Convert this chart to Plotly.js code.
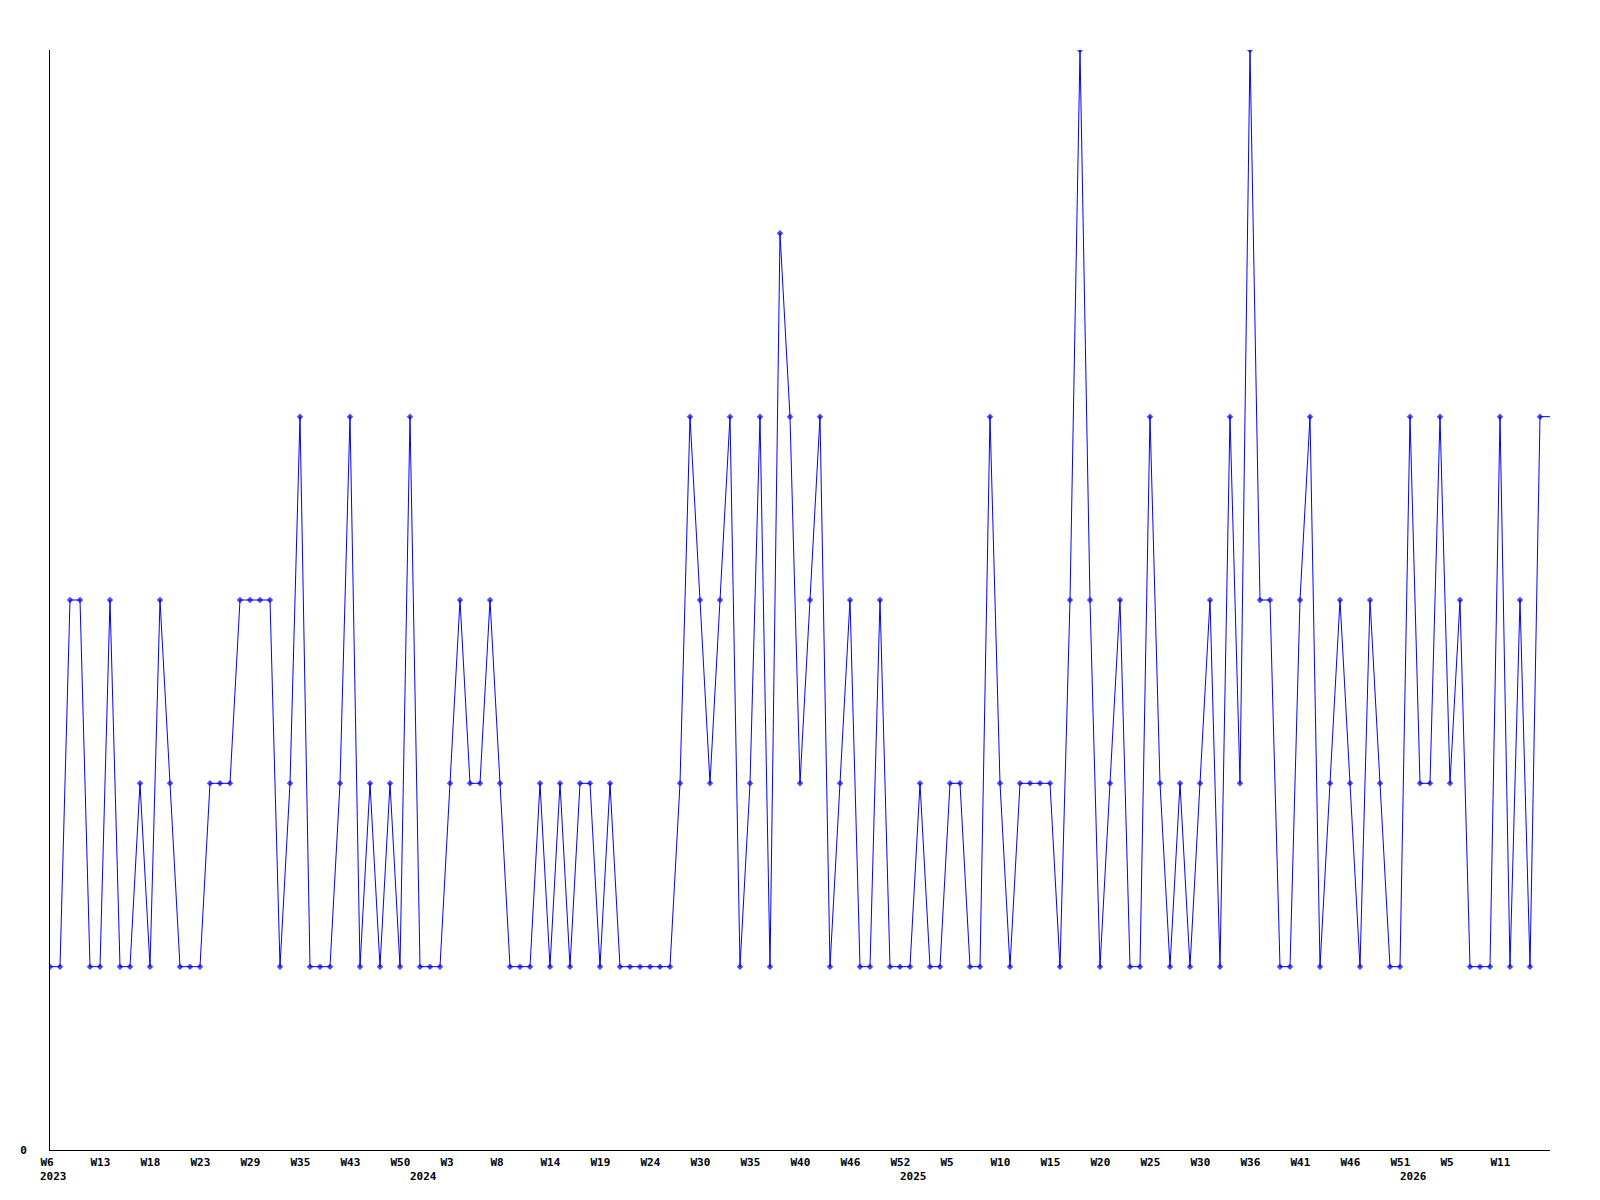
<!DOCTYPE html>
<html>
<head>
<meta charset="utf-8">
<script src="https://cdn.plot.ly/plotly-3.0.1.min.js"></script>
<style>html,body{margin:0;padding:0;background:#fff;}#chart{width:1600px;height:1200px;}</style>
</head>
<body>
<div id="chart"></div>
<script>
// Weekly values, 2023 W6 onward (one value per plotted week)
const values = [
  1,1,3,3,1,1,3,1,1,2,
  1,3,2,1,1,1,2,2,2,3,
  3,3,3,1,2,4,1,1,1,2,
  4,1,2,1,2,1,4,1,1,1,
  2,3,2,2,3,2,1,1,1,2,
  1,2,1,2,2,1,2,1,1,1,
  1,1,1,2,4,3,2,3,4,1,
  2,4,1,5,4,2,3,4,1,2,
  3,1,1,3,1,1,1,2,1,1,
  2,2,1,1,4,2,1,2,2,2,
  2,1,3,6,3,1,2,3,1,1,
  4,2,1,2,1,2,3,1,4,2,
  6,3,3,1,1,3,4,1,2,3,
  2,1,3,2,1,1,4,2,2,4,
  2,3,1,1,1,4,1,3,1,4,
  4
];

// Week tick labels (position = index in values)
const weekTickIdx  = [0,5,10,15,20,25,30,35,40,45,50,55,60,65,70,75,80,85,90,95,100,105,110,115,120,125,130,135,140,145];
const weekTickText = ['W6','W13','W18','W23','W29','W35','W43','W50','W3','W8','W14','W19','W24','W30','W35','W40','W46','W52','W5','W10','W15','W20','W25','W30','W36','W41','W46','W51','W5','W11'];

// Year labels
const yearTickIdx  = [0,37,86,136];
const yearTickText = ['2023','2024','2025','2026'];

// Y axis label
const yTickVals = [0];
const yTickText = ['0'];

const xIdx = values.map((v, i) => i);
const markerSizes = values.map((v, i) => (i === values.length - 1 ? 0 : 5));

const labelFont = {family: 'DejaVu Sans Mono', size: 11, color: '#000', weight: 'bold'};

const trace = {
  type: 'scatter',
  mode: 'lines+markers',
  x: xIdx,
  y: values,
  line: {color: '#0000ff', width: 1},
  marker: {color: '#0000ff', symbol: 'diamond', size: markerSizes, line: {width: 0}},
  hoverinfo: 'x+y',
  showlegend: false
};

const xRange = [0, values.length - 1];

const layout = {
  width: 1600,
  height: 1200,
  margin: {l: 50, r: 50, t: 50, b: 50, pad: 0},
  paper_bgcolor: '#fff',
  plot_bgcolor: '#fff',
  showlegend: false,
  xaxis: {
    range: xRange,
    showline: true, linecolor: '#000', linewidth: 1,
    showgrid: false, zeroline: false,
    ticks: '', tickmode: 'array',
    tickvals: weekTickIdx, ticktext: weekTickText,
    ticklabelposition: 'outside right',
    ticklabelshift: -10,
    ticklabelstandoff: 2,
    tickfont: labelFont,
    fixedrange: true
  },
  xaxis2: {
    range: xRange,
    overlaying: 'x', anchor: 'y', side: 'bottom',
    showline: false, showgrid: false, zeroline: false,
    ticks: '', tickmode: 'array',
    tickvals: yearTickIdx, ticktext: yearTickText,
    ticklabelposition: 'outside right',
    ticklabelshift: -10,
    ticklabelstandoff: 18,
    tickfont: labelFont,
    fixedrange: true
  },
  yaxis: {
    range: [0, 6],
    showline: true, linecolor: '#000', linewidth: 1,
    showgrid: false, zeroline: false,
    ticks: '', tickmode: 'array',
    tickvals: yTickVals, ticktext: yTickText,
    ticklabelstandoff: 20,
    tickfont: labelFont,
    fixedrange: true
  }
};

const yearTrace = {type: 'scatter', x: [], y: [], xaxis: 'x2', yaxis: 'y', showlegend: false, hoverinfo: 'skip'};

Plotly.newPlot('chart', [trace, yearTrace], layout, {displayModeBar: false, staticPlot: true});
</script>
</body>
</html>
